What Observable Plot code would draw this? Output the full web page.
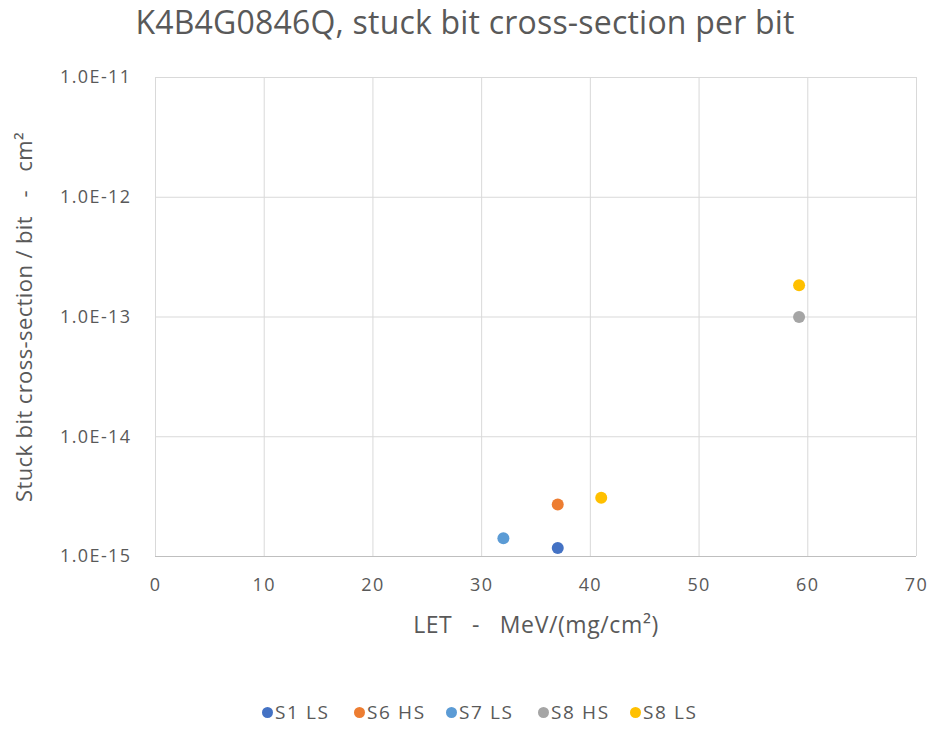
<!DOCTYPE html>
<html>
<head>
<meta charset="utf-8">
<script src="https://cdn.jsdelivr.net/npm/d3@7"></script>
<script src="https://cdn.jsdelivr.net/npm/@observablehq/plot@0.6"></script>
<style>
  html, body { margin: 0; padding: 0; background: #fff; }
  body { width: 932px; height: 729px; overflow: hidden; font-family: "Open Sans", sans-serif; color: #595959; }
  #title { height: 45px; line-height: 44px; text-align: center; font-size: 32px; letter-spacing: 0.2px; color: #595959; white-space: nowrap; padding-right: 2px; }
  #chart svg { display: block; }
  #legend { display: flex; padding-left: 262px; margin-top: 54px; font-size: 19px; color: #595959; letter-spacing: 1.6px; }
  #legend span.item { display: inline-flex; align-items: center; width: 92px; white-space: nowrap; }
  #legend span.dot { width: 11px; height: 11px; border-radius: 50%; display: inline-block; margin-right: 2px; }
</style>
</head>
<body>
<div id="title">K4B4G0846Q, stuck bit cross-section per bit</div>
<div id="chart"></div>
<div id="legend"></div>
<script>
// Series and their colours
const series = ["S1 LS", "S6 HS", "S7 LS", "S8 HS", "S8 LS"];
const seriesColors = ["#4472C4", "#ED7D31", "#5B9BD5", "#A5A5A5", "#FFC000"];

// Measured points: series, LET and cross-section per bit
const pointSeries = ["S1 LS", "S6 HS", "S7 LS", "S8 HS", "S8 LS", "S8 LS"];
const letValues = [37, 37, 32, 59.2, 41, 59.2];
const crossSections = [1.18e-15, 2.72e-15, 1.42e-15, 1.0e-13, 3.09e-15, 1.84e-13];

// Axis ticks
const xTicks = [0, 10, 20, 30, 40, 50, 60, 70];
const yTicks = [1e-15, 1e-14, 1e-13, 1e-12, 1e-11];

const points = pointSeries.map((s, i) => ({series: s, let: letValues[i], cs: crossSections[i]}));

const fmtSci = d => "1.0E" + Math.round(Math.log10(d));
const gap = "\u00A0\u00A0\u00A0";

const chart = Plot.plot({
  width: 932,
  height: 600,
  marginTop: 32,
  marginBottom: 89,
  marginLeft: 155,
  marginRight: 16,
  style: {fontFamily: "Open Sans, sans-serif", color: "#595959", background: "#fff"},
  x: {domain: [0, 70]},
  y: {type: "log", domain: [1e-15, 1e-11]},
  color: {domain: series, range: seriesColors},
  marks: [
    Plot.ruleX(xTicks, {stroke: "#d9d9d9", strokeWidth: 1}),
    Plot.ruleY(yTicks, {stroke: "#d9d9d9", strokeWidth: 1}),
    Plot.ruleY([1e-15], {stroke: "#bfbfbf", strokeWidth: 1}),
    Plot.axisX({
      ticks: xTicks, tickSize: 0, tickPadding: 22,
      label: "LET" + gap + "-" + gap + "MeV/(mg/cm²)", labelAnchor: "center", labelArrow: "none", labelOffset: 76
    }),
    Plot.axisY({
      ticks: yTicks, tickFormat: fmtSci, tickSize: 0, tickPadding: 24,
      label: "Stuck bit cross-section / bit" + gap + "-" + gap + "cm²", labelAnchor: "center", labelArrow: "none", labelOffset: 139
    }),
    Plot.dot(points, {x: "let", y: "cs", fill: "series", r: 6, stroke: "none"})
  ]
});

// Text sizes for tick labels and axis titles
const svg = d3.select(chart);
svg.selectAll("g[aria-label='x-axis tick label'], g[aria-label='y-axis tick label']")
  .style("font-size", "18px").style("letter-spacing", "1.4px");
svg.selectAll("g[aria-label='x-axis label']").style("font-size", "23px").style("letter-spacing", "0.6px");
svg.selectAll("g[aria-label='y-axis label']").style("font-size", "22px").style("letter-spacing", "0.4px");

document.getElementById("chart").appendChild(chart);

const legend = document.getElementById("legend");
series.forEach((s, i) => {
  const item = document.createElement("span");
  item.className = "item";
  const dot = document.createElement("span");
  dot.className = "dot";
  dot.style.background = seriesColors[i];
  item.appendChild(dot);
  item.appendChild(document.createTextNode(s));
  legend.appendChild(item);
});
</script>
</body>
</html>
